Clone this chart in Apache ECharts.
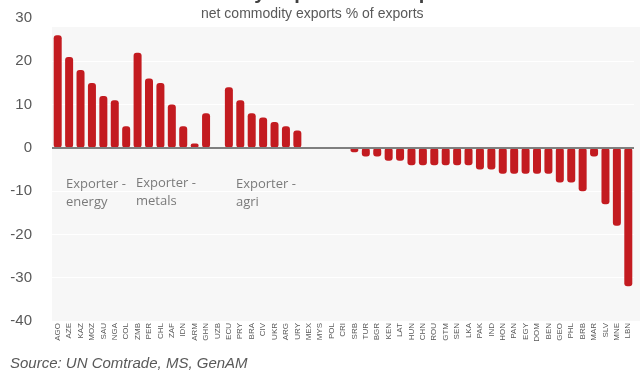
<!DOCTYPE html>
<html>
<head>
<meta charset="utf-8">
<script src="https://cdn.jsdelivr.net/npm/echarts@6/dist/echarts.min.js"></script>
<style>
  html, body { margin: 0; padding: 0; background: #ffffff; }
  #chart { width: 643px; height: 379px; }
</style>
</head>
<body>
<div id="chart"></div>
<script>
// Country codes, ordered by exporter group then net importers
const countries = [
  'AGO','AZE','KAZ','MOZ','SAU','NGA','COL',
  'ZMB','PER','CHL','ZAF','IDN','ARM','GHN','UZB',
  'ECU','PRY','BRA','CIV','UKR','ARG','URY',
  'MEX','MYS','POL','CRI','SRB','TUR','BGR','KEN','LAT','HUN','CHN','ROU',
  'GTM','SEN','LKA','PAK','IND','HON','PAN','EGY','DOM','BEN','GEO','PHL',
  'BRB','MAR','SLV','MNE','LBN'
];

// Net commodity exports as % of total exports
const netExports = [
  26, 21, 18, 15, 12, 11, 5,
  22, 16, 15, 10, 5, 1, 8, 0,
  14, 11, 8, 7, 6, 5, 4,
  0, 0, 0, 0, -1, -2, -2, -3, -3, -4, -4, -4,
  -4, -4, -4, -5, -5, -6, -6, -6, -6, -6, -8, -8,
  -10, -2, -13, -18, -32
];

const yTicks = { min: -40, max: 30, interval: 10 };

const groupNotes = [
  { text: 'Exporter -\nenergy', x: 66, y: 175 },
  { text: 'Exporter -\nmetals', x: 136, y: 174 },
  { text: 'Exporter -\nagri', x: 236, y: 175 }
];

const chart = echarts.init(document.getElementById('chart'), null, { renderer: 'canvas' });

const gridBox = { left: 52, right: 9, top: 18, bottom: 58 };

chart.setOption({
  animation: false,
  backgroundColor: '#ffffff',
  textStyle: { fontFamily: 'Liberation Sans, Arial, sans-serif' },
  grid: { left: gridBox.left, right: gridBox.right, top: gridBox.top, bottom: gridBox.bottom, containLabel: false },
  graphic: [
    // plot panel shading
    {
      type: 'rect', z: -10, silent: true,
      shape: { x: 52, y: 27, width: 588, height: 294 },
      style: { fill: '#f7f7f7' }
    },
    {
      type: 'text', left: 'center', top: -17, z: 5, silent: true,
      style: {
        text: 'Commodity importers vs exporters',
        fill: '#404040', font: 'bold 20px "Liberation Sans", Arial, sans-serif'
      }
    },
    {
      type: 'text', left: 201, top: 7, z: 5, silent: true,
      style: {
        text: 'net commodity exports % of exports',
        fill: '#595959', font: '14px "Liberation Sans", Arial, sans-serif'
      }
    },
    {
      type: 'text', left: 10, top: 356, silent: true,
      style: {
        text: 'Source: UN Comtrade, MS, GenAM',
        fill: '#595959', font: 'italic 15px "Liberation Sans", Arial, sans-serif'
      }
    }
  ].concat(groupNotes.map(n => ({
    type: 'text', left: n.x, top: n.y, z: 5, silent: true,
    style: {
      text: n.text, fill: '#7a7a7a', lineHeight: 18,
      font: '13px "Open Sans", sans-serif'
    }
  }))),
  xAxis: {
    type: 'category',
    data: countries,
    axisLine: { show: false, onZero: false },
    axisTick: { show: false },
    axisLabel: {
      interval: 0, rotate: 90, fontSize: 8, color: '#595959', margin: 2
    },
    splitLine: { show: false }
  },
  yAxis: {
    type: 'value',
    min: yTicks.min, max: yTicks.max, interval: yTicks.interval,
    axisLine: { show: false },
    axisTick: { show: false },
    axisLabel: { color: '#595959', fontSize: 15, margin: 20 },
    splitLine: { show: true, lineStyle: { color: '#ffffff', width: 1 } }
  },
  series: [{
    type: 'bar',
    data: netExports,
    barWidth: 8,
    itemStyle: { color: '#c31b20', borderRadius: 3 },
    markLine: {
      silent: true,
      symbol: 'none',
      label: { show: false },
      lineStyle: { color: '#7f7f7f', width: 2, type: 'solid' },
      data: [{ yAxis: 0 }]
    }
  }]
});
</script>
</body>
</html>
